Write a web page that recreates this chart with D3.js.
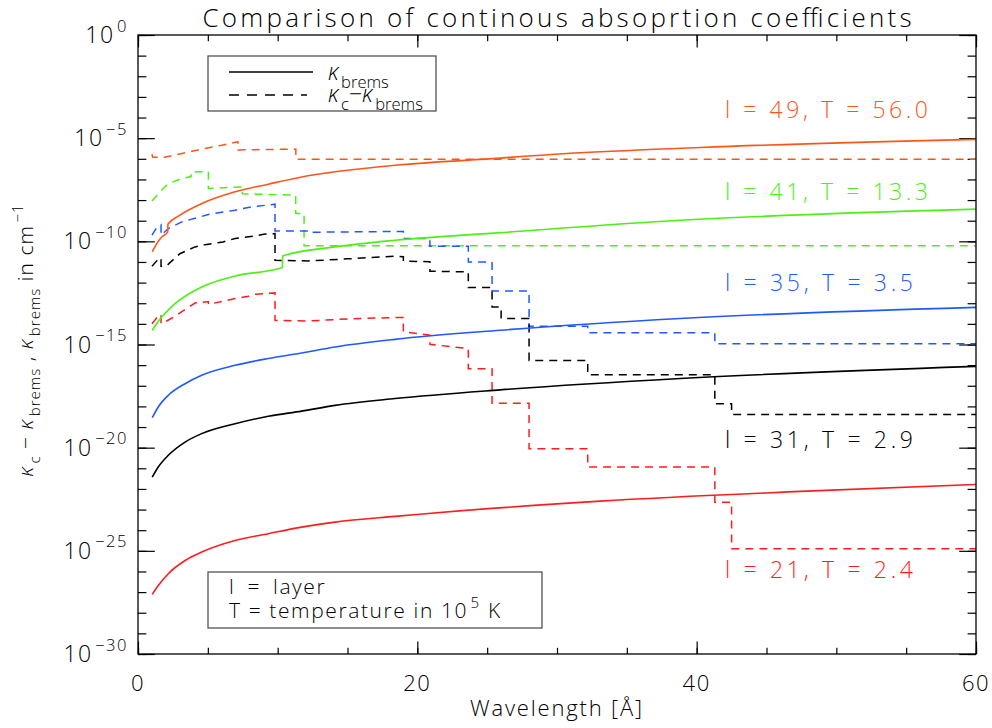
<!DOCTYPE html>
<html>
<head>
<meta charset="utf-8">
<script src="https://cdn.jsdelivr.net/npm/d3@7"></script>
<style>
  body { margin: 0; background: #fff; }
  svg text { font-family: "Open Sans", "DejaVu Sans", sans-serif; font-weight: 300; fill: #000; }
</style>
</head>
<body>
<div id="chart"></div>
<script>
// wavelength [A] and log10(kappa [cm^-1])
// solid lines: kappa_brems
const brems49 = [[1.02,-10.51],[1.34,-10.11],[1.70,-9.79],[2.13,-9.54],[2.14,-9.17],[2.89,-8.78],[4.56,-8.17],[6.95,-7.60],[9.33,-7.23],[11.72,-6.88],[14.11,-6.63],[18.41,-6.31],[24.50,-6.03],[31.66,-5.71],[40.25,-5.45],[60,-5.06]];
const brems41 = [[1.02,-14.31],[1.34,-13.98],[1.70,-13.67],[2.65,-13.02],[4.56,-12.21],[6.95,-11.68],[10.34,-11.27],[10.35,-10.71],[14.11,-10.27],[18.41,-9.95],[25.93,-9.58],[38.82,-8.98],[60,-8.44]];
const brems35 = [[1.02,-18.55],[1.45,-18.03],[2.17,-17.46],[3.37,-16.90],[4.56,-16.49],[6.95,-16.01],[9.33,-15.68],[11.72,-15.41],[14.11,-15.12],[18.41,-14.75],[25.93,-14.31],[38.82,-13.74],[60,-13.20]];
const brems31 = [[1.02,-21.43],[1.45,-20.94],[2.17,-20.37],[3.37,-19.73],[4.56,-19.32],[6.95,-18.84],[9.33,-18.48],[11.72,-18.23],[14.11,-17.95],[18.41,-17.62],[25.93,-17.20],[38.82,-16.65],[60,-16.06]];
const brems21 = [[1.02,-27.11],[1.45,-26.68],[2.17,-26.11],[3.37,-25.47],[4.56,-25.06],[6.95,-24.50],[9.33,-24.17],[11.72,-23.85],[14.11,-23.61],[18.41,-23.33],[33.09,-22.59],[47.42,-22.12],[60,-21.78]];

// dashed lines: kappa_c - kappa_brems (edges give the steps)
const excess49 = [[1.0,-5.78],[1.05,-5.92],[1.9,-5.93],[3.13,-5.74],[4.56,-5.53],[6.0,-5.34],[7.15,-5.17],[7.15,-5.57],[9.0,-5.55],[11.3,-5.53],[11.3,-6.02],[60,-6.02]];
const excess41 = [[1.0,-8.04],[1.81,-7.44],[2.17,-7.20],[2.53,-7.12],[3.13,-6.95],[3.8,-6.86],[3.8,-6.63],[5.04,-6.62],[5.04,-7.44],[7.48,-7.36],[7.48,-7.70],[11.29,-7.76],[11.29,-8.65],[11.89,-8.65],[11.89,-10.22],[60,-10.22]];
const excess35 = [[1.0,-9.70],[1.34,-9.33],[1.65,-9.20],[1.65,-9.70],[2.17,-9.38],[3.13,-9.06],[5.04,-8.70],[6.95,-8.49],[8.14,-8.33],[9.81,-8.20],[9.81,-9.50],[12.2,-9.50],[12.2,-9.56],[19.0,-9.52],[19.0,-9.86],[20.9,-9.86],[20.9,-10.24],[23.65,-10.24],[23.65,-11.0],[25.35,-11.0],[25.35,-12.41],[28.0,-12.41],[28.0,-14.12],[32.2,-14.12],[32.2,-14.43],[41.3,-14.43],[41.3,-14.96],[60,-14.96]];
const excess31 = [[1.0,-11.21],[1.35,-10.94],[1.65,-10.80],[1.65,-11.21],[2.05,-11.19],[2.29,-11.03],[3.0,-10.6],[4.08,-10.27],[4.8,-10.16],[6.09,-10.03],[6.95,-9.86],[8.38,-9.74],[9.1,-9.65],[9.81,-9.62],[9.81,-10.92],[12.2,-10.95],[15.0,-10.85],[18.4,-10.72],[19.0,-10.75],[19.0,-10.96],[20.9,-10.99],[20.9,-11.45],[23.65,-11.48],[23.65,-12.24],[25.35,-12.24],[25.35,-13.18],[26.0,-13.18],[26.0,-13.74],[28.0,-13.74],[28.0,-15.77],[32.2,-15.77],[32.2,-16.47],[41.3,-16.47],[41.3,-17.87],[42.5,-17.87],[42.5,-18.39],[60,-18.39]];
const excess21 = [[1.0,-13.99],[1.35,-13.70],[1.65,-13.54],[1.65,-13.99],[2.05,-13.86],[2.65,-13.63],[4.08,-12.99],[5.04,-12.92],[5.04,-13.05],[6.2,-12.89],[6.95,-12.77],[7.9,-12.66],[8.4,-12.57],[9.81,-12.50],[9.81,-13.83],[12.2,-13.86],[15.0,-13.76],[18.4,-13.69],[19.0,-13.69],[19.0,-14.39],[20.9,-14.55],[20.9,-14.99],[23.65,-15.20],[23.65,-16.17],[25.35,-16.17],[25.35,-17.85],[28.0,-17.85],[28.0,-20.05],[32.2,-20.05],[32.2,-20.94],[41.3,-20.94],[41.3,-22.64],[42.5,-22.64],[42.5,-24.90],[60,-24.90]];

const layerLabels = ["l = 49, T = 56.0", "l = 41, T = 13.3", "l = 35, T = 3.5", "l = 31, T = 2.9", "l = 21, T = 2.4"];
const xMajorTicks = [0, 20, 40, 60];
const yMajorExp = [0, -5, -10, -15, -20, -25, -30];

// layout / styles
const colors = ["#ff5519", "#4def14", "#1e5aff", "#000000", "#ff1c1c"];
const bremsSeries = [brems49, brems41, brems35, brems31, brems21];
const excessSeries = [excess49, excess41, excess35, excess31, excess21];
const labelY = [118, 200, 291, 448, 578];
const labelW = [203, 203, 188, 188, 188];

const W = 992, H = 728;
const margin = { top: 35, right: 16, bottom: 74, left: 138 };
const width = W - margin.left - margin.right;
const height = H - margin.top - margin.bottom;

const svg = d3.select('#chart').append('svg')
    .attr('width', W).attr('height', H);
const g = svg.append('g').attr('transform', `translate(${margin.left},${margin.top})`);

const x = d3.scaleLinear().domain([0, 60]).range([0, width]);
const y = d3.scaleLog().domain([1e-30, 1]).range([height, 0]);

// write text with sub/superscripts
function rich(sel, parts, size) {
    let off = 0;
    parts.forEach(([s, mode, italic]) => {
        const target = mode === 'sub' ? size * 0.35 : mode === 'sup' ? -size * 0.5 : 0;
        const t = sel.append('tspan')
            .attr('dy', target - off)
            .attr('font-size', mode ? size * 0.72 : size)
            .text(s);
        if (mode) t.attr('dx', 2.5);
        if (italic) t.attr('font-style', 'italic');
        off = target;
    });
}

// axes, ticks pointing inwards
const yMinor = d3.range(0, -31, -1).map(e => Math.pow(10, e));
const yMajor = yMajorExp.map(e => Math.pow(10, e));
const xMinor = d3.range(0, 61, 5);

function styleAxis(sel) {
    sel.select('.domain').remove();
    sel.selectAll('line').attr('stroke', '#000').attr('stroke-width', 1.2);
    sel.selectAll('text').remove();
}

g.append('g').attr('transform', `translate(0,${height})`)
    .call(d3.axisBottom(x).tickValues(xMinor).tickSize(-6.2)).call(styleAxis);
g.append('g').attr('transform', `translate(0,${height})`)
    .call(d3.axisBottom(x).tickValues(xMajorTicks).tickSize(-12.4)).call(styleAxis);
g.append('g')
    .call(d3.axisTop(x).tickValues(xMinor).tickSize(-6.2)).call(styleAxis);
g.append('g')
    .call(d3.axisTop(x).tickValues(xMajorTicks).tickSize(-12.4)).call(styleAxis);
g.append('g')
    .call(d3.axisLeft(y).tickValues(yMinor).tickSize(-8.4)).call(styleAxis);
g.append('g')
    .call(d3.axisLeft(y).tickValues(yMajor).tickSize(-16.8)).call(styleAxis);
g.append('g').attr('transform', `translate(${width},0)`)
    .call(d3.axisRight(y).tickValues(yMinor).tickSize(-8.4)).call(styleAxis);
g.append('g').attr('transform', `translate(${width},0)`)
    .call(d3.axisRight(y).tickValues(yMajor).tickSize(-16.8)).call(styleAxis);

// x tick labels
g.selectAll('.xlab').data(xMajorTicks).enter().append('text')
    .attr('x', d => x(d)).attr('y', height + 37)
    .attr('text-anchor', 'middle').attr('font-size', 22)
    .style('letter-spacing', '1.5px')
    .text(d => d);

// y tick labels 10^n
yMajorExp.forEach(e => {
    const t = g.append('text')
        .attr('x', -10).attr('y', y(Math.pow(10, e)) + 8)
        .attr('text-anchor', 'end')
        .style('letter-spacing', '1.5px');
    rich(t, [['10', null], [e === 0 ? '0' : '\u2212' + (-e), 'sup']], 23);
});

// curves
const line = d3.line().x(d => x(d[0])).y(d => y(Math.pow(10, d[1])));
const smooth = d3.line().x(d => x(d[0])).y(d => y(Math.pow(10, d[1]))).curve(d3.curveMonotoneX);

excessSeries.forEach((s, i) => {
    g.append('path').datum(s)
        .attr('d', line)
        .attr('fill', 'none').attr('stroke', colors[i])
        .attr('stroke-width', 1.5).attr('stroke-dasharray', '8,6');
});
bremsSeries.forEach((s, i) => {
    g.append('path').datum(s)
        .attr('d', smooth)
        .attr('fill', 'none').attr('stroke', colors[i])
        .attr('stroke-width', 1.6);
});

// frame
g.append('rect').attr('width', width).attr('height', height)
    .attr('fill', 'none').attr('stroke', '#000').attr('stroke-width', 1.3);

// layer labels
layerLabels.forEach((s, i) => {
    svg.append('text')
        .attr('x', 725).attr('y', labelY[i])
        .attr('font-size', 23)
        .style('fill', colors[i])
        .attr('textLength', labelW[i]).attr('lengthAdjust', 'spacing')
        .text(s);
});

// legend
svg.append('rect').attr('x', 208).attr('y', 56).attr('width', 228).attr('height', 55)
    .attr('fill', 'none').attr('stroke', '#444').attr('stroke-width', 1.2);
svg.append('line').attr('x1', 229).attr('x2', 313).attr('y1', 72).attr('y2', 72)
    .attr('stroke', '#000').attr('stroke-width', 1.6);
svg.append('line').attr('x1', 229).attr('x2', 307).attr('y1', 95).attr('y2', 95)
    .attr('stroke', '#000').attr('stroke-width', 1.6).attr('stroke-dasharray', '10,8');
rich(svg.append('text').attr('x', 328).attr('y', 80), [['\u03ba', null, true], ['brems', 'sub']], 23);
rich(svg.append('text').attr('x', 328).attr('y', 102),
    [['\u03ba', null, true], ['c', 'sub'], ['\u2212', null], ['\u03ba', null, true], ['brems', 'sub']], 23);

// note box
svg.append('rect').attr('x', 208).attr('y', 572).attr('width', 334).attr('height', 56)
    .attr('fill', 'none').attr('stroke', '#444').attr('stroke-width', 1.2);
svg.append('text').attr('x', 229).attr('y', 594).attr('font-size', 21)
    .style('letter-spacing', '1.6px').style('word-spacing', '5px')
    .text('l = layer');
rich(svg.append('text').attr('x', 229).attr('y', 618).style('letter-spacing', '1.6px'),
    [['T = temperature in 10', null], ['5', 'sup'], [' K', null]], 21);

// title and axis titles
svg.append('text').attr('x', 557).attr('y', 27)
    .attr('text-anchor', 'middle').attr('font-size', 26)
    .attr('textLength', 709).attr('lengthAdjust', 'spacing')
    .text('Comparison of continous absoprtion coefficients');
svg.append('text').attr('x', 556).attr('y', 716)
    .attr('text-anchor', 'middle').attr('font-size', 22)
    .attr('textLength', 172).attr('lengthAdjust', 'spacing')
    .text('Wavelength [\u00c5]');
const yt = svg.append('text')
    .attr('transform', 'translate(33,340) rotate(-90)')
    .attr('text-anchor', 'middle')
    .style('letter-spacing', '1px');
rich(yt, [['\u03ba', null, true], ['c', 'sub'], [' \u2212 ', null], ['\u03ba', null, true], ['brems', 'sub'],
    [' , ', null], ['\u03ba', null, true], ['brems', 'sub'], [' in cm', null], ['\u22121', 'sup']], 21);
</script>
</body>
</html>
